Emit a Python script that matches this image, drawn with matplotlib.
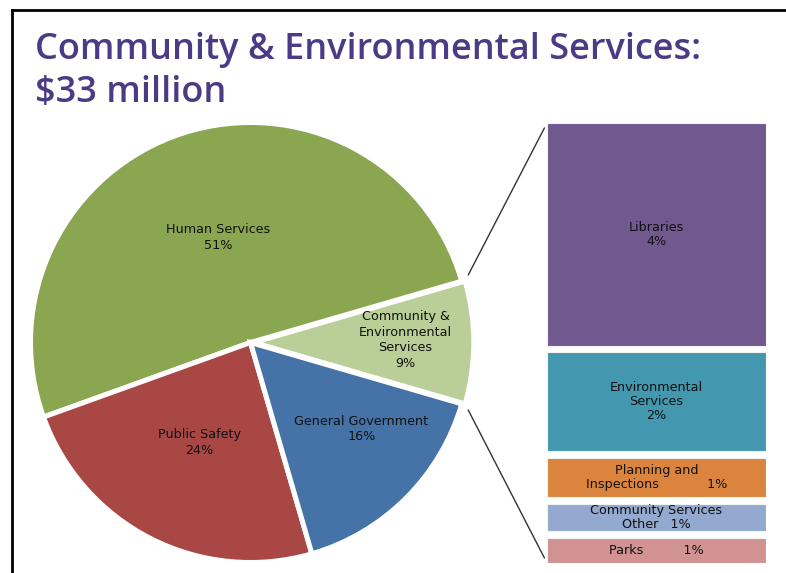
import matplotlib
matplotlib.use("Agg")
import matplotlib.pyplot as plt
import numpy as np
from matplotlib.patches import ConnectionPatch
from matplotlib.lines import Line2D

# Budget shares (percent of the $33 million total)
pie_labels = ["Community &\nEnvironmental\nServices", "Human Services",
              "Public Safety", "General Government"]
pie_values = [9, 51, 24, 16]
pie_colors = ["#B9CF97", "#8BA650", "#A94745", "#4572A7"]

# Breakdown of the Community & Environmental Services slice
bar_labels = ["Libraries", "Environmental\nServices", "Planning and\nInspections",
              "Community Services\nOther", "Parks"]
bar_values = [4.49, 2.0, 0.8, 0.55, 0.51]
bar_colors = ["#71588F", "#4398AF", "#DB843D", "#93A9CF", "#D19392"]

title_lines = ["Community & Environmental Services:", "$33 million"]

W, H = 786, 573
fig = plt.figure(figsize=(W / 100, H / 100), dpi=100)
fig.patch.set_facecolor("white")

FONT = "DejaVu Sans"
TXT = "#111111"
LBL = 9.2

# ---- pie ----
cx, cy, R = 250.5, 342.5, 220.0
pie_ax = fig.add_axes([(cx - R) / W, (H - cy - R) / H, 2 * R / W, 2 * R / H])
start = -pie_values[0] / 100 * 360 / 2
wedges, _ = pie_ax.pie(pie_values, colors=pie_colors, startangle=start,
                       counterclock=True, explode=[0.015, 0, 0, 0],
                       wedgeprops=dict(edgecolor="white", linewidth=3.6))
pie_ax.set_xlim(-1, 1)
pie_ax.set_ylim(-1, 1)
pie_ax.set_aspect("auto")
pie_ax.axis("off")
for w in wedges:
    w.set_clip_on(False)

# label placement: radial fraction and angular nudge per slice
label_r = [0.69, 0.50, 0.51, 0.64]
label_da = [1, -1, 0, 7]
for w, lab, val, rr, da in zip(wedges, pie_labels, pie_values, label_r, label_da):
    ang = np.deg2rad((w.theta1 + w.theta2) / 2 + da)
    pie_ax.text(rr * np.cos(ang) + w.center[0], rr * np.sin(ang) + w.center[1],
                f"{lab}\n{val}%", ha="center", va="center", fontsize=LBL,
                family=FONT, color=TXT, linespacing=1.25)

# ---- stacked bar of the exploded slice ----
bx0, bx1, by0, by1 = 547, 766, 123, 563
bar_ax = fig.add_axes([bx0 / W, (H - by1) / H, (bx1 - bx0) / W, (by1 - by0) / H])
total = sum(bar_values)
gap = total * 0.0158
span = total + gap * (len(bar_values) - 1)
bottom = 0.0
bar_texts = [
    "Libraries\n{}",
    "Environmental\nServices\n{}",
    "Planning and\nInspections            {}",
    "Community Services\nOther   {}",
    "Parks          {}",
]
for lab, val, col, fmt in zip(bar_labels, bar_values, bar_colors, bar_texts):
    bar_ax.bar(0.5, val, width=1.0, bottom=bottom, color=col,
               edgecolor="#f2f2f2", linewidth=0.8)
    bar_ax.text(0.5, bottom + val / 2, fmt.format(f"{val:.0f}%"),
                ha="center", va="center", fontsize=LBL, family=FONT,
                color=TXT, linespacing=1.1)
    bottom += val + gap
bar_ax.set_xlim(0, 1)
bar_ax.set_ylim(span, 0)
bar_ax.axis("off")

# ---- connector lines from the slice edges to the bar ----
top_ang = np.deg2rad(wedges[0].theta2)
bot_ang = np.deg2rad(wedges[0].theta1)
for ang, yb in [(top_ang, 0), (bot_ang, span)]:
    ox, oy = wedges[0].center
    con = ConnectionPatch(xyA=(np.cos(ang) + ox, np.sin(ang) + oy), coordsA=pie_ax.transData,
                          xyB=(0, yb), coordsB=bar_ax.transData,
                          color="#333333", linewidth=1.0, shrinkA=5, shrinkB=4)
    fig.add_artist(con)

# ---- title ----
for i, line in enumerate(title_lines):
    fig.text(35 / W, 1 - (59 + 43 * i) / H, line, ha="left", va="baseline",
             fontsize=26, family=["Open Sans", "DejaVu Sans"], fontweight="semibold",
             color="#4B3A85")

# ---- frame ----
fig.add_artist(Line2D([12 / W, 12 / W], [0, 1 - 10 / H], transform=fig.transFigure,
                      color="black", linewidth=2))
fig.add_artist(Line2D([12 / W, 1], [1 - 10 / H, 1 - 10 / H], transform=fig.transFigure,
                      color="black", linewidth=2))

fig.savefig("out.png", dpi=100, facecolor="white")
